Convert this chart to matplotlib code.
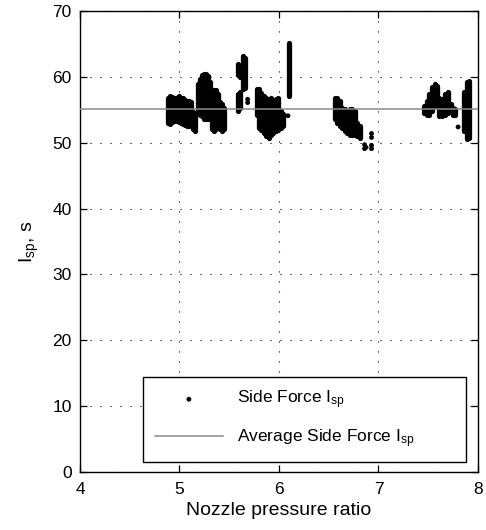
import matplotlib
matplotlib.use("Agg")
import matplotlib.pyplot as plt

plt.rcParams['font.family'] = ['Liberation Sans', 'DejaVu Sans']
plt.rcParams['mathtext.fontset'] = 'custom'
plt.rcParams['mathtext.rm'] = 'Liberation Sans'
plt.rcParams['mathtext.it'] = 'Liberation Sans'

# ---- data ----
# dense point columns: nozzle pressure ratio, lowest and highest Isp in that column
col_npr = [4.88, 4.90, 4.92, 4.94, 4.96, 4.98, 5.00, 5.02, 5.04, 5.06, 5.08, 5.10, 5.12, 5.14, 5.16,
           5.19, 5.21, 5.23, 5.25, 5.27, 5.29, 5.31, 5.33, 5.35, 5.37, 5.39, 5.41, 5.43, 5.45,
           5.59, 5.59, 5.61, 5.61, 5.64, 5.66,
           5.78, 5.80, 5.82, 5.845, 5.87, 5.895, 5.92, 5.94, 5.97, 5.99, 6.02, 6.04,
           6.10,
           6.563, 6.586, 6.61, 6.637, 6.66, 6.687, 6.71, 6.737, 6.76, 6.787, 6.81,
           7.457, 7.484, 7.51, 7.537, 7.564, 7.584, 7.61, 7.637, 7.667, 7.695, 7.724, 7.75, 7.77,
           7.86, 7.885, 7.905]
col_low = [52.7, 52.5, 52.8, 53.0, 53.0, 52.9, 52.8, 52.7, 52.5, 52.4, 52.2, 52.2, 52.4, 51.7, 51.5,
           54.2, 53.9, 53.7, 53.3, 53.2, 53.2, 53.4, 51.7, 51.5, 51.7, 52.2, 51.7, 51.4, 51.7,
           54.4, 60.0, 55.0, 59.7, 57.8, 58.0,
           53.9, 51.9, 51.6, 51.1, 50.6, 50.4, 50.9, 51.1, 51.4, 51.6, 51.9, 52.2,
           56.7,
           53.2, 52.7, 52.2, 51.9, 51.4, 51.2, 50.9, 50.9, 50.8, 50.7, 50.4,
           54.2, 53.9, 53.9, 54.5, 55.2, 55.9, 53.7, 53.7, 53.9, 54.2, 54.5, 53.9, 53.9,
           51.4, 50.2, 50.4]
col_high = [57.2, 57.5, 57.3, 57.1, 57.2, 57.3, 57.4, 57.2, 57.1, 56.9, 56.7, 56.7, 56.5, 55.0, 54.4,
            59.3, 60.1, 60.6, 60.8, 60.8, 60.5, 59.5, 58.2, 58.4, 58.4, 57.7, 56.5, 56.2, 55.7,
            57.8, 62.3, 58.0, 62.0, 63.5, 63.2,
            58.5, 58.5, 57.9, 57.5, 57.2, 57.0, 57.2, 56.7, 57.0, 57.2, 55.2, 54.7,
            65.5,
            57.2, 57.2, 56.7, 55.7, 55.5, 55.2, 55.5, 55.5, 55.2, 53.4, 52.9,
            56.0, 56.7, 57.7, 58.8, 59.3, 59.0, 57.2, 57.0, 57.7, 58.0, 56.2, 55.7, 55.5,
            58.0, 59.5, 59.8]
# isolated points
dot_npr = [5.17, 5.685, 5.685, 6.09, 6.86, 6.86, 6.875, 6.93, 6.93, 6.93, 6.93, 7.80]
dot_isp = [54.4, 56.6, 56.1, 54.1, 49.1, 49.7, 49.3, 49.1, 49.6, 50.8, 51.4, 52.4]

avg_isp = 55.1

x_ticks = [4, 5, 6, 7, 8]
y_ticks = [0, 10, 20, 30, 40, 50, 60, 70]

# ---- figure ----
fig = plt.figure(figsize=(4.86, 5.30), dpi=100)
ax = fig.add_axes([0.1646, 0.1094, 0.8189, 0.8698])

cap = 0.35
lc = ax.vlines(col_npr, [v + cap for v in col_low], [v - cap for v in col_high],
               colors='black', linewidth=3.8)
lc.set_capstyle('round')
sc = ax.scatter(dot_npr, dot_isp, s=12, c='black', edgecolors='none', zorder=3,
                label='Side Force $\\mathregular{I_{sp}}$')
ax.axhline(avg_isp, color='#8a8a8a', linewidth=1.1, zorder=4,
           label='Average Side Force $\\mathregular{I_{sp}}$')

ax.set_xlim(4, 8)
ax.set_ylim(0, 70)
ax.set_xticks(x_ticks)
ax.set_yticks(y_ticks)
ax.tick_params(direction='in', length=5, width=0.9, top=True, right=True, labelsize=12.5)
ax.tick_params(axis='x', pad=7)
ax.tick_params(axis='y', pad=6)
ax.grid(True, color='black', linestyle=(0, (1, 8)), linewidth=0.8)
for s in ax.spines.values():
    s.set_linewidth(1.0)

ax.set_xlabel('Nozzle pressure ratio', fontsize=14, labelpad=4)
ax.set_ylabel('$\\mathregular{I_{sp}}$, s', fontsize=14, labelpad=8)

leg = ax.legend(loc='lower left', bbox_to_anchor=(0.158, 0.022, 0.812, 0.2), mode='expand',
                borderaxespad=0, fancybox=False, edgecolor='black', framealpha=1, fontsize=12.5,
                handlelength=3.9, handletextpad=0.85, labelspacing=0.9, borderpad=0.7,
                markerscale=1.0)
leg.get_frame().set_linewidth(1.0)

fig.savefig('out.png', dpi=100)
